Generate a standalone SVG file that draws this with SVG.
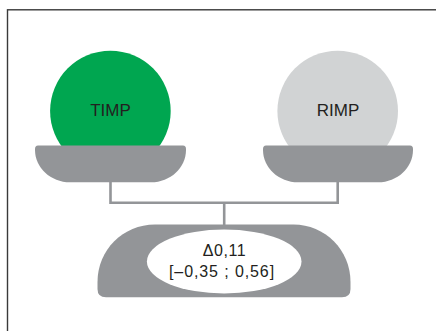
<svg xmlns="http://www.w3.org/2000/svg" width="436" height="331" viewBox="0 0 436 331">
<style>
.pan{fill:#939598}
.lbl{font-family:"Liberation Sans",Arial,sans-serif;fill:#231f20;text-anchor:middle}
.conn{fill:none;stroke:#939598;stroke-width:2.6}
</style>
<rect x="0" y="0" width="436" height="331" fill="#ffffff"/>
<rect x="7.5" y="9.8" width="440" height="340" fill="none" stroke="#3a3a3a" stroke-width="1.4"/>
<g id="connectors">
<path class="conn" d="M110.5 181 V202.7 H337.7 V181"/>
<path class="conn" d="M224.2 202.7 V226"/>
</g>
<g id="timp">
<circle cx="110.4" cy="111" r="60.3" fill="#00a650"/>
<path class="pan" d="M38 145.5 H183 Q186 145.5 186 149 V150 C186 167.7 170.3 182.3 151 182.3 H70 C50.7 182.3 35 167.7 35 150 V149 Q35 145.5 38 145.5 Z"/>
<text class="lbl" x="110.5" y="116.3" font-size="17">TIMP</text>
</g>
<g id="rimp">
<circle cx="337.7" cy="111" r="60.3" fill="#d1d3d4"/>
<path class="pan" d="M266 145.5 H410 Q413 145.5 413 149 V150 C413 167.7 397.3 182.3 378 182.3 H298 C278.7 182.3 263 167.7 263 150 V149 Q263 145.5 266 145.5 Z"/>
<text class="lbl" x="338" y="116.3" font-size="17">RIMP</text>
</g>
<g id="result">
<path class="pan" d="M155 224.5 H293.5 C325 224.5 350.5 250 350.5 282 V289 Q350.5 297.3 342 297.3 H106 Q97.5 297.3 97.5 289 V282 C97.5 250 123 224.5 155 224.5 Z"/>
<ellipse cx="224.2" cy="261.5" rx="77.3" ry="32" fill="#ffffff"/>
<text class="lbl" x="224.5" y="255.7" font-size="16" letter-spacing="0.6">Δ0,11</text>
<text class="lbl" x="222" y="276.7" font-size="16" letter-spacing="0.9">[–0,35 ; 0,56]</text>
</g>
</svg>
